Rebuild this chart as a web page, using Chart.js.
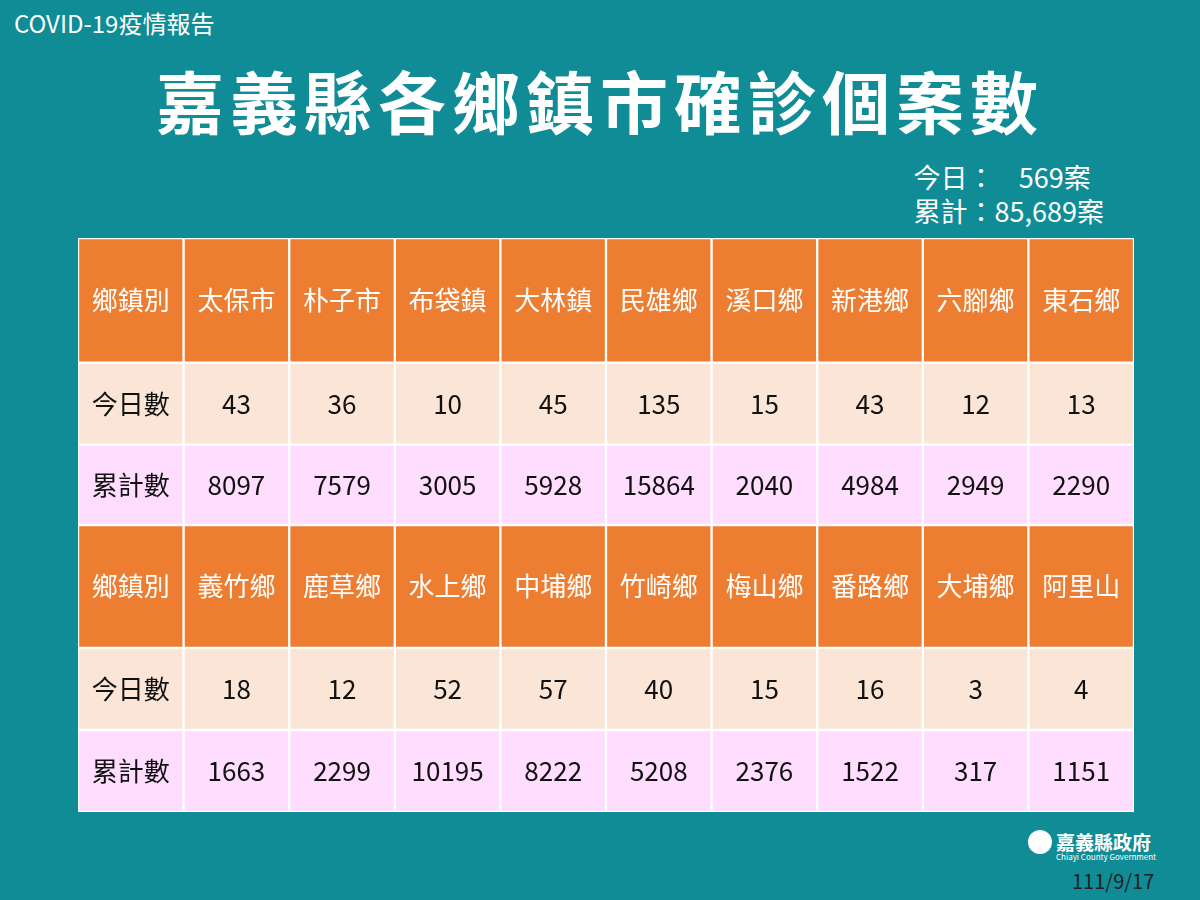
<!DOCTYPE html>
<html><head><meta charset="utf-8">
<script src="https://cdn.jsdelivr.net/npm/chart.js@4"></script>
<style>
body{margin:0;width:1200px;height:900px;background:#0F8C95;font-family:"Noto Sans CJK TC","Noto Sans",sans-serif;position:relative;overflow:hidden;color:#fff}
.t{position:absolute;white-space:nowrap}
#wrap{position:absolute;left:78px;top:238px;width:1056px;height:574px;background:#fff}
</style></head><body>
<div class="t" style="left:14px;top:5px;font-size:24px">COVID-19疫情報告</div>
<div class="t" style="left:0;width:1200px;text-align:center;top:50px;font-size:68px;font-weight:bold;letter-spacing:6px">嘉義縣各鄉鎮市確診個案數</div>
<div class="t" style="right:96px;top:160px;font-size:27px;line-height:34px;text-align:left">今日：&nbsp;&nbsp;&nbsp;&nbsp;569案<br>累計：85,689案</div>
<div class="t" style="left:1028px;top:830px;width:24px;height:24px;border-radius:12px;background:#fff"></div>
<div class="t" style="left:1056px;top:828px;font-size:19px;font-weight:bold">嘉義縣政府</div>
<div class="t" style="left:1056px;top:851px;font-size:8px">Chiayi County Government</div>
<div class="t" style="left:1072px;top:866px;font-size:20px;color:#222">111/9/17</div>
<div id="wrap"><canvas id="c"></canvas></div>
<script>
const HEAD1 = ['鄉鎮別','太保市','朴子市','布袋鎮','大林鎮','民雄鄉','溪口鄉','新港鄉','六腳鄉','東石鄉'];
const TODAY1 = ['今日數',43,36,10,45,135,15,43,12,13];
const TOTAL1 = ['累計數',8097,7579,3005,5928,15864,2040,4984,2949,2290];
const HEAD2 = ['鄉鎮別','義竹鄉','鹿草鄉','水上鄉','中埔鄉','竹崎鄉','梅山鄉','番路鄉','大埔鄉','阿里山'];
const TODAY2 = ['今日數',18,12,52,57,40,15,16,3,4];
const TOTAL2 = ['累計數',1663,2299,10195,8222,5208,2376,1522,317,1151];
const ROW_EDGES = [0,1.52,2.52,3.5,5.0,6.0,7.0];

const rows = [HEAD1,TODAY1,TOTAL1,HEAD2,TODAY2,TOTAL2];
const fills = ['#ED7D31','#FBE5D6','#FFDDFF','#ED7D31','#FBE5D6','#FFDDFF'];
const cols = HEAD1.map((_,i)=>'c'+i);

new Chart(document.getElementById('c'), {
  type: 'bar',
  data: {
    labels: cols,
    datasets: rows.map((r,ri)=>({
      data: r.map(()=>[ROW_EDGES[ri],ROW_EDGES[ri+1]]),
      texts: r,
      head: ri%3===0,
      backgroundColor: fills[ri],
      borderColor: '#fff', borderWidth: 1.5, borderSkipped: false,
      grouped: false, categoryPercentage: 1, barPercentage: 1
    }))
  },
  options: {
    responsive: true, maintainAspectRatio: false, animation: false,
    layout: { padding: 0 },
    plugins: { legend: { display: false }, tooltip: { enabled: false } },
    scales: {
      x: { display: false, offset: true },
      y: { display: false, reverse: true, min: 0, max: 7 }
    }
  },
  plugins: [{
    id: 'cellText',
    afterDatasetsDraw(chart) {
      const ctx = chart.ctx;
      ctx.save();
      ctx.textAlign = 'center'; ctx.textBaseline = 'middle';
      chart.data.datasets.forEach((ds, di) => {
        chart.getDatasetMeta(di).data.forEach((bar, i) => {
          const p = bar.getProps(['x','y','base']);
          ctx.fillStyle = ds.head ? '#fff' : '#111';
          ctx.font = '26px "Noto Sans CJK TC"';
          ctx.fillText(String(ds.texts[i]), p.x, (p.y + p.base) / 2);
        });
      });
      ctx.restore();
    }
  }]
});
</script>
</body></html>
